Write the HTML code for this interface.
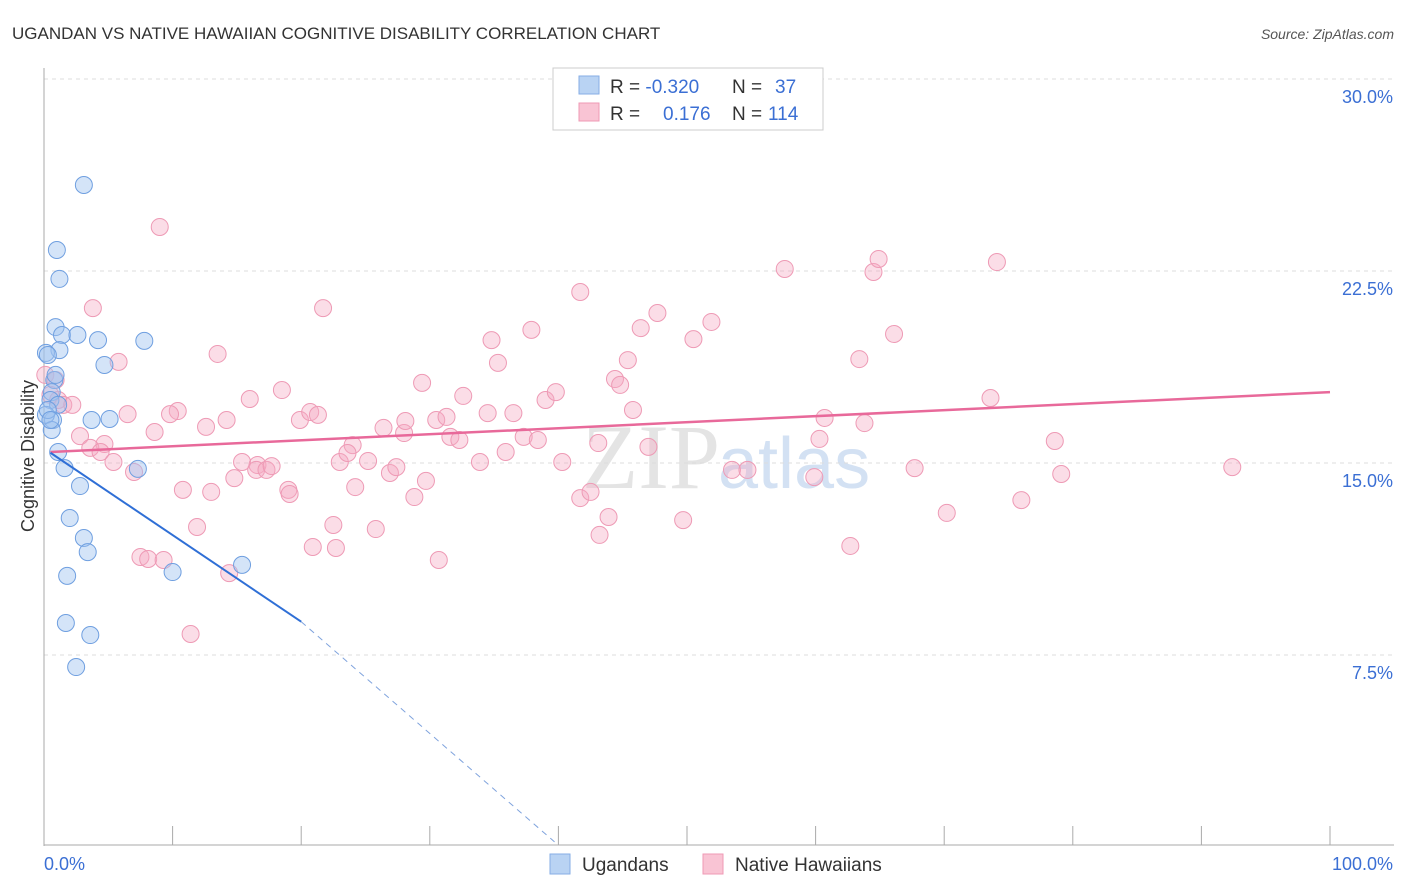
<!DOCTYPE html>
<html><head><meta charset="utf-8"><style>
body{margin:0;background:#fff;font-family:"Liberation Sans",sans-serif;}
svg{display:block}
</style></head><body>
<svg id="c" width="1406" height="892">
<text x="12" y="39" font-size="17" fill="#333">UGANDAN VS NATIVE HAWAIIAN COGNITIVE DISABILITY CORRELATION CHART</text>
<text x="1394" y="39" font-size="14" fill="#555" text-anchor="end" font-style="italic">Source: ZipAtlas.com</text>
<text x="720" y="488" font-size="92" fill="#e4e4e4" text-anchor="end" font-family="Liberation Serif">ZIP</text>
<text x="718" y="488" font-size="72" fill="#d3e1f3">atlas</text>
<g id="grid"></g>
<g id="pts"></g>
<g id="lines"></g>
<g>
<rect x="553" y="68" width="270" height="62" fill="#fff" stroke="#ccc"/>
<rect x="579" y="76" width="20" height="18" fill="#b9d3f3" stroke="#86aee6"/>
<rect x="579" y="103" width="20" height="18" fill="#f9c4d4" stroke="#ef9ab5"/>
<text x="610" y="93" font-size="19" fill="#333">R = <tspan fill="#3b6fd4">-0.320</tspan><tspan x="732">N = </tspan><tspan x="775" fill="#3b6fd4">37</tspan></text>
<text x="610" y="120" font-size="19" fill="#333">R = <tspan x="663" fill="#3b6fd4">0.176</tspan><tspan x="732">N = </tspan><tspan x="768" fill="#3b6fd4">114</tspan></text>
</g>
<g>
<rect x="550" y="854" width="20" height="20" fill="#b9d3f3" stroke="#86aee6"/>
<text x="582" y="871" font-size="19" fill="#333">Ugandans</text>
<rect x="703" y="854" width="20" height="20" fill="#f9c4d4" stroke="#ef9ab5"/>
<text x="735" y="871" font-size="19" fill="#333">Native Hawaiians</text>
</g>
<text x="44" y="870" font-size="18" fill="#3b6fd4">0.0%</text>
<text x="1393" y="870" font-size="18" fill="#3b6fd4" text-anchor="end">100.0%</text>
<text transform="translate(34,456) rotate(-90)" font-size="18" fill="#333" text-anchor="middle">Cognitive Disability</text>
</svg>
<script>
const yTicks=[7.5,15,22.5,30];
const yTickLabels=["7.5%","15.0%","22.5%","30.0%"];
const ugX=[3.1,1.0,1.2,0.9,1.4,2.6,4.2,7.8,1.2,0.15,0.3,4.7,0.8,0.6,0.5,1.1,0.7,3.7,5.1,7.3,1.1,1.6,2.8,2.0,3.1,3.4,1.8,10.0,15.4,1.7,3.6,2.5,0.15,0.3,0.6,0.5,0.9];
const ugY=[25.86,23.32,22.19,20.31,20.0,20.0,19.8,19.77,19.41,19.3,19.22,18.83,18.24,17.77,17.46,17.27,16.68,16.68,16.72,14.77,15.43,14.8,14.1,12.85,12.07,11.52,10.59,10.74,11.02,8.75,8.28,7.03,16.88,17.07,16.29,16.68,18.44];
const nhX=[9.0,3.8,21.7,5.8,13.5,0.1,0.9,0.5,1.1,1.5,2.2,6.5,10.4,9.8,16.0,18.5,14.2,12.6,8.6,2.8,4.7,3.6,4.4,5.4,7.0,10.8,13.0,14.8,15.4,16.6,16.5,17.3,17.7,19.0,19.1,11.9,7.5,8.1,9.3,14.4,11.4,19.9,20.7,21.3,22.7,20.9,22.5,25.8,24.0,23.0,23.6,24.2,25.2,26.4,26.9,27.4,28.0,28.1,28.8,29.7,29.4,30.5,31.3,31.6,32.3,30.7,32.6,33.9,34.5,34.8,35.3,35.9,36.5,37.3,37.9,38.4,39.0,39.8,40.3,41.7,41.7,42.5,43.2,43.1,43.9,44.4,44.8,45.4,45.8,46.4,47.0,47.7,49.7,50.5,51.9,53.5,54.7,57.6,59.9,60.3,60.7,62.7,63.4,63.8,64.5,64.9,66.1,67.7,70.2,73.6,74.1,76.0,78.6,79.1,92.4];
const nhY=[24.22,21.05,21.05,18.95,19.26,18.44,18.24,17.66,17.46,17.27,17.27,16.91,17.03,16.91,17.5,17.85,16.68,16.41,16.21,16.05,15.74,15.59,15.43,15.04,14.65,13.95,13.87,14.41,15.04,14.92,14.73,14.73,14.88,13.95,13.79,12.5,11.33,11.25,11.21,10.7,8.32,16.68,16.99,16.88,11.68,11.72,12.58,12.42,15.7,15.04,15.39,14.06,15.08,16.37,14.61,14.84,16.17,16.64,13.67,14.3,18.13,16.68,16.8,16.02,15.9,11.21,17.62,15.04,16.95,19.8,18.91,15.43,16.95,16.02,20.2,15.9,17.46,17.77,15.04,21.68,13.63,13.87,12.19,15.78,12.89,18.28,18.05,19.02,17.07,20.27,15.63,20.86,12.77,19.84,20.51,14.73,14.73,22.58,14.45,15.94,16.76,11.76,19.06,16.56,22.46,22.97,20.04,14.8,13.05,17.54,22.85,13.55,15.86,14.57,14.84];
const ugLine=[[0.5,15.4],[20.0,8.8]];
const ugDash=[[20.0,8.8],[39.7,0.2]];
const nhLine=[[0.5,15.43],[100,17.77]];

const NS="http://www.w3.org/2000/svg";
const X=v=>44+v*12.86, Y=v=>847-v*25.6;
function mk(t,a,p){const e=document.createElementNS(NS,t);for(const k in a)e.setAttribute(k,a[k]);p.appendChild(e);return e;}
const grid=document.getElementById('grid');
yTicks.forEach((t,i)=>{
 const l=mk('line',{x1:44,x2:1394,y1:Y(t),y2:Y(t),stroke:'#ddd','stroke-dasharray':'4,4'},grid);
 
 
 const tx=mk('text',{x:1393,y:Y(t)+24,'font-size':18,fill:'#3b6fd4','text-anchor':'end'},grid);
 tx.textContent=yTickLabels[i];
 
 
});
const ax=mk('line',{x1:44,x2:44,y1:68,y2:846,stroke:'#aaa'},grid);


const bx=mk('line',{x1:44,x2:1394,y1:845,y2:845,stroke:'#aaa'},grid);


for(let i=1;i<=10;i++){
 const t=mk('line',{x1:X(i*10),x2:X(i*10),y1:826,y2:845,stroke:'#aaa'},grid);
 
 
}
const pts=document.getElementById('pts');
nhX.forEach((v,i)=>{
 const c=mk('circle',{cx:X(v),cy:Y(nhY[i]),r:8.5,fill:'rgba(246,170,195,0.4)',stroke:'#ee9ab5','stroke-width':1},pts);
 
 
});
ugX.forEach((v,i)=>{
 const c=mk('circle',{cx:X(v),cy:Y(ugY[i]),r:8.5,fill:'rgba(160,195,240,0.45)',stroke:'#6f9fe0','stroke-width':1},pts);
 
 
});
const lines=document.getElementById('lines');
const l1=mk('line',{x1:X(nhLine[0][0]),y1:Y(nhLine[0][1]),x2:X(nhLine[1][0]),y2:Y(nhLine[1][1]),stroke:'#e8699a','stroke-width':2.5},lines);


const l2=mk('line',{x1:X(ugLine[0][0]),y1:Y(ugLine[0][1]),x2:X(ugLine[1][0]),y2:Y(ugLine[1][1]),stroke:'#2f6fd6','stroke-width':2},lines);


const l3=mk('line',{x1:X(ugDash[0][0]),y1:Y(ugDash[0][1]),x2:X(ugDash[1][0]),y2:Y(ugDash[1][1]),stroke:'#7fa3dd','stroke-width':1,'stroke-dasharray':'6,5'},lines);


</script>
</body></html>
